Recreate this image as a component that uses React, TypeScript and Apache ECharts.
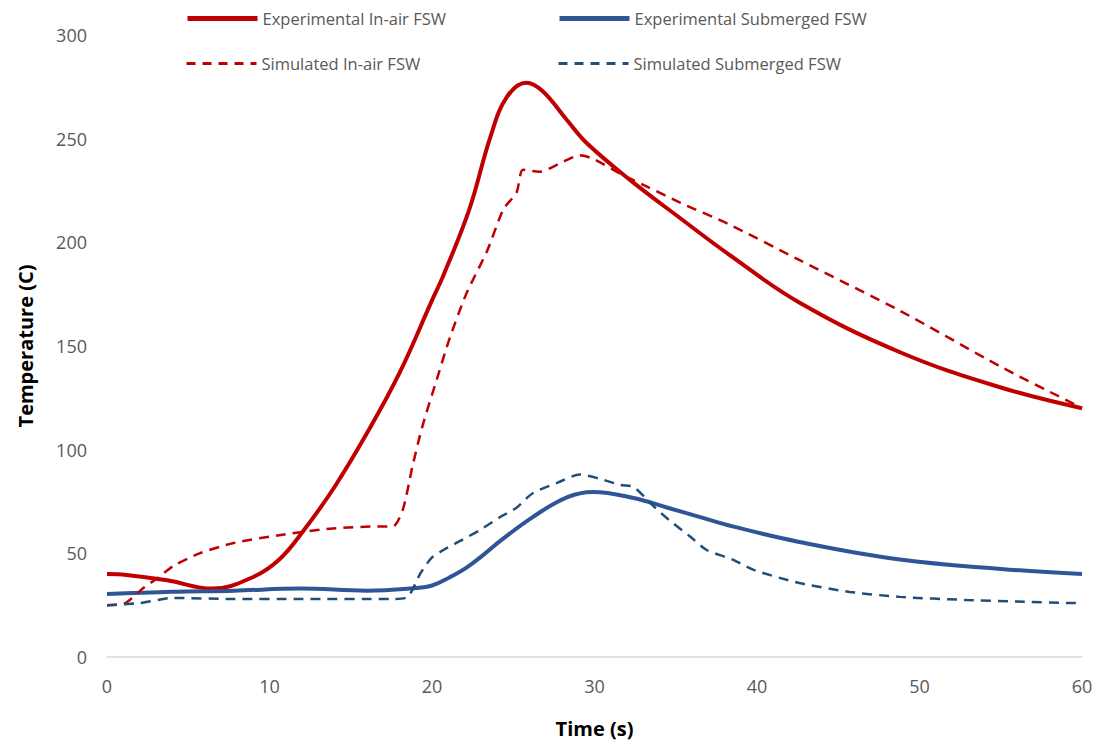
import React, { useEffect, useRef } from "react";
import * as echarts from "echarts";

const xTicks = [0, 10, 20, 30, 40, 50, 60];
const yTicks = [0, 50, 100, 150, 200, 250, 300];

const seriesNames = [
  "Experimental In-air FSW",
  "Experimental Submerged FSW",
  "Simulated In-air FSW",
  "Simulated Submerged FSW",
];

const expAirT = [0, 1.2, 3.7, 6.5, 9, 10.6, 12.1, 14, 16, 18, 20, 20.7, 22.3, 23.6, 24.6, 25.8, 26.8, 28.3, 29.5, 32.2, 35.3, 38.3, 42.6, 48.8, 55, 60];
const expAirV = [40, 39.6, 37, 33, 38.6, 47, 61, 82, 108, 137, 172, 184, 216, 251, 270, 277, 273, 259, 248, 230, 211.5, 194, 171, 147, 130, 120];

const simAirT = [0, 1, 1.4, 2.2, 3.1, 4.1, 5.7, 7.8, 10.8, 13.9, 17, 17.6, 18.2, 18.8, 19.4, 20.3, 21.1, 22.1, 23.4, 24.4, 25.2, 25.6, 26.6, 28.1, 29.1, 30, 31.6, 33.2, 35.3, 38.2, 42.6, 48.8, 55, 59, 60];
const simAirV = [25, 25.5, 27.5, 33, 38, 44, 50, 55, 59, 62, 63, 63, 71, 92, 111, 134, 154, 175, 196, 216, 224, 235, 234, 239, 242, 240, 233, 227, 219, 209, 191.5, 167, 140, 124, 120];

const expSubT = [0, 4, 7.8, 11.9, 16, 18.6, 20, 21.1, 22.1, 23.2, 24.2, 26.2, 28.3, 29.9, 32.4, 34.5, 36.5, 38.5, 42.6, 48.8, 55, 60];
const expSubV = [30.4, 31.5, 32, 33, 32, 33, 34.5, 38.5, 43, 49.5, 56, 67.5, 77, 79.6, 76.7, 72, 67.5, 63, 55.5, 47, 42.5, 40];

const simSubT = [0, 2, 4.1, 7.8, 12, 17.6, 18.5, 19.3, 20, 20.7, 21.5, 22.9, 24.2, 25.2, 26.2, 27.7, 29.1, 30.3, 31.6, 32.4, 33.6, 34.6, 35.9, 36.9, 38.5, 39.8, 42.6, 45.7, 48.8, 52.9, 56, 59.5, 60];
const simSubV = [25, 26, 28.5, 28, 28, 28, 29, 40.5, 48, 51.6, 55, 61, 67.5, 72, 79, 84, 88, 86, 83, 82, 73, 66, 58, 51.6, 47, 42, 35.7, 31.4, 29, 27.5, 26.8, 26, 26];

const pairs = (t: number[], v: number[]) => t.map((x, i) => [x, v[i]]);

const RED = "#C00000";
const BLUE = "#2F5597";
const DBLUE = "#1F4E79";
const FONT = "'Open Sans', sans-serif";

export default function App() {
  const ref = useRef<HTMLDivElement>(null);
  useEffect(() => {
    document.body.style.margin = "0";
    const chart = echarts.init(ref.current!, undefined, { renderer: "svg" });
    const legendText = { fontFamily: FONT, fontSize: 16.5, color: "#595959" };
    const mkLegend = (name: string, left: number, top: number, color: string, dashed: boolean) => ({
      data: [name],
      left,
      top,
      padding: 0,
      itemWidth: 70,
      itemHeight: 14,
      itemGap: 8,
      textStyle: legendText,
      selectedMode: false,
      itemStyle: { opacity: 0 },
      lineStyle: dashed
        ? { color, width: 3, type: [9, 7], opacity: 1 }
        : { color, width: 5, type: "solid", opacity: 1 },
    });
    chart.setOption({
      animation: false,
      backgroundColor: "#ffffff",
      legend: [
        mkLegend(seriesNames[0], 185, 10, RED, false),
        mkLegend(seriesNames[1], 557, 10, BLUE, false),
        mkLegend(seriesNames[2], 185, 55, RED, true),
        mkLegend(seriesNames[3], 557, 55, DBLUE, true),
      ],
      grid: { left: 107, right: 18, top: 35, bottom: 87, containLabel: false },
      xAxis: {
        type: "value",
        min: xTicks[0],
        max: xTicks[xTicks.length - 1],
        interval: 10,
        name: "Time (s)",
        nameLocation: "middle",
        nameGap: 61,
        nameTextStyle: { fontFamily: FONT, fontSize: 20, fontWeight: "bold", color: "#000" },
        axisLine: { show: true, lineStyle: { color: "#D9D9D9", width: 1.5 } },
        axisTick: { show: false },
        splitLine: { show: false },
        axisLabel: { fontFamily: FONT, fontSize: 18, color: "#595959", margin: 20 },
      },
      yAxis: {
        type: "value",
        min: yTicks[0],
        max: yTicks[yTicks.length - 1],
        interval: 50,
        name: "Temperature (C)",
        nameLocation: "middle",
        nameGap: 72,
        nameTextStyle: { fontFamily: FONT, fontSize: 20, fontWeight: "bold", color: "#000" },
        axisLine: { show: false },
        axisTick: { show: false },
        splitLine: { show: false },
        axisLabel: { fontFamily: FONT, fontSize: 18, color: "#595959", margin: 20 },
      },
      series: [
        {
          name: seriesNames[0],
          type: "line",
          data: pairs(expAirT, expAirV),
          smooth: 0.4,
          symbol: "none",
          lineStyle: { color: RED, width: 4 },
          itemStyle: { color: RED },
        },
        {
          name: seriesNames[1],
          type: "line",
          data: pairs(expSubT, expSubV),
          smooth: 0.4,
          symbol: "none",
          lineStyle: { color: BLUE, width: 4 },
          itemStyle: { color: BLUE },
        },
        {
          name: seriesNames[2],
          type: "line",
          data: pairs(simAirT, simAirV),
          smooth: 0.25,
          symbol: "none",
          lineStyle: { color: RED, width: 2.5, type: [10, 7] },
          itemStyle: { color: RED },
        },
        {
          name: seriesNames[3],
          type: "line",
          data: pairs(simSubT, simSubV),
          smooth: 0.25,
          symbol: "none",
          lineStyle: { color: DBLUE, width: 2.5, type: [10, 7] },
          itemStyle: { color: DBLUE },
        },
      ],
    });
    return () => chart.dispose();
  }, []);
  return <div ref={ref} style={{ width: 1100, height: 744 }} />;
}
